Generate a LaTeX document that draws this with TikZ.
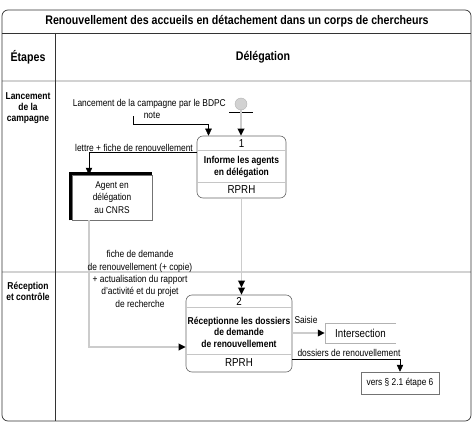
\documentclass[tikz,border=0pt]{standalone}
\usepackage{fontspec}
\setmainfont{Liberation Sans}[FakeStretch=0.85]
\usepackage{tikz}
\usetikzlibrary{positioning, arrows.meta}
\tikzset{
  frame/.style={draw=black!80, line width=0.7pt},
  lanesep/.style={draw=gray!35, line width=1.4pt},
  ttl/.style={font=\fontsize{12.5}{14}\selectfont\bfseries},
  lane/.style={font=\fontsize{10}{11}\selectfont\bfseries, align=center},
  proc/.style={draw=black!60, rounded corners=6pt, line width=0.6pt, inner sep=0pt},
  psep/.style={draw=gray!45, line width=0.8pt},
  ptitle/.style={font=\fontsize{10}{11.5}\selectfont\bfseries, align=center},
  pnum/.style={font=\fontsize{11.5}{13}\selectfont},
  doc/.style={draw=black!55, line width=0.5pt, font=\fontsize{9.8}{12.5}\selectfont,
              align=center, inner sep=0pt},
  lbl/.style={font=\fontsize{9.9}{12.3}\selectfont, align=center, inner sep=1pt},
  flow/.style={draw=gray!40, line width=1.8pt, -{Triangle[length=7pt,width=6.5pt,black]}},
  flowtwo/.style={draw=gray!40, line width=1.8pt,
                  -{Triangle[length=7pt,width=6.5pt,black]Triangle[length=7pt,width=6.5pt,black]}},
  msg/.style={draw=black, line width=0.5pt, -{Triangle[length=7pt,width=6.5pt]}}
}
\begin{document}
\begin{tikzpicture}[x=1pt, y=-1pt]
  \useasboundingbox (0,0) rectangle (473,428);
  \draw[lanesep] (2,81) -- (471,81);
  \draw[lanesep] (2,272) -- (471,272);
  \draw[frame] (2,33) -- (471,33);
  \draw[frame] (55,33) -- (55,421);
  \draw[frame, rounded corners=6pt] (2,10) rectangle (471,421);

  \node[ttl] (title) at (237,21) {Renouvellement des accueils en détachement dans un corps de chercheurs};
  \node[ttl] (etapes) at (28,57) {Étapes};
  \node[ttl] (deleg) at (263,57) {Délégation};
  \node[lane] (lane1) at (28,108) {Lancement\\de la\\campagne};
  \node[lane] (lane2) at (28,291) {Réception\\et contrôle};

  \node[circle, draw=gray!60, fill=gray!35, minimum size=12pt, inner sep=0pt] (start) at (241,104) {};
  \draw[line width=0.6pt] (229,112) -- (253,112);
  \node[lbl, anchor=east] (evt) at (227,104) {Lancement de la campagne par le BDPC};
  \node[lbl] (note) at (152,115) {note};

  \node[proc, minimum width=89pt, minimum height=62pt] (p1) at (241.5,167) {};
  \draw[psep] ([yshift=-15pt]p1.north west) -- ([yshift=-15pt]p1.north east);
  \draw[psep] ([yshift=16pt]p1.south west) -- ([yshift=16pt]p1.south east);
  \node[pnum] (p1num) at (241.5,143.5) {1};
  \node[ptitle] (p1txt) at (241.5,167) {Informe les agents\\en délégation};
  \node[pnum] (p1who) at (241.5,190) {RPRH};

  \node[proc, minimum width=106pt, minimum height=77pt] (p2) at (239,333.5) {};
  \draw[psep] ([yshift=-13pt]p2.north west) -- ([yshift=-13pt]p2.north east);
  \draw[psep] ([yshift=18pt]p2.south west) -- ([yshift=18pt]p2.south east);
  \node[pnum] (p2num) at (239,301.5) {2};
  \node[ptitle] (p2txt) at (239,332) {Réceptionne les dossiers\\de demande\\de renouvellement};
  \node[pnum] (p2who) at (239,363) {RPRH};

  \node[doc, minimum width=80pt, minimum height=45pt] (ag) at (112,197.5) {Agent en\\délégation\\au CNRS};
  \draw[line width=3pt] ([xshift=-1pt]ag.south west) |- ([yshift=1pt]ag.north east);

  \node[lbl, font=\fontsize{11.5}{13}\selectfont, minimum width=71pt, minimum height=20pt] (inter) at (360.5,333) {Intersection};
  \draw[draw=gray!60, line width=0.6pt] (inter.north east) -- (inter.north west) -- (inter.south west) -- (inter.south east);
  \node[doc, minimum width=78pt, minimum height=22pt] (vers) at (400,383) {vers § 2.1 étape 6};

  \draw[flow] (start) -- (start |- p1.north);
  \coordinate (notesrc) at (133,116);
  \draw[msg] (notesrc) -- ++(0,8) -| ([xshift=-33pt]p1.north);
  \draw[msg] ([yshift=-17pt]p1.north west) -| ([xshift=-23pt]ag.north);
  \draw[flow] ([xshift=-23pt]ag.south) |- ([yshift=-13.5pt]p2.west);
  \draw[flowtwo] (p1.south) -- (p1.south |- p2.north);
  \draw[flow] (p2.east |- inter.west) -- (inter.west);
  \draw[msg] ([yshift=-26pt]p2.east) -| (vers.north);

  \node[lbl] (lettre) at (134,148) {lettre + fiche de renouvellement};
  \node[lbl] (fiche) at (140,279) {fiche de demande\\de renouvellement (+ copie)\\+ actualisation du rapport\\d'activité et du projet\\de recherche};
  \node[lbl] (saisie) at (306,320) {Saisie};
  \node[lbl] (dossiers) at (349,353) {dossiers de renouvellement};
\end{tikzpicture}
\end{document}
